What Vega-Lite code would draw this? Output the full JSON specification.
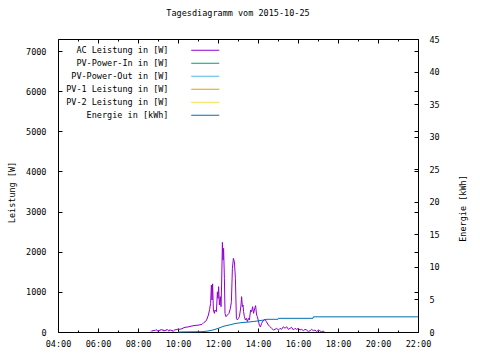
{
  "$schema": "https://vega.github.io/schema/vega-lite/v6.json",
  "width": 360,
  "height": 293,
  "autosize": {"type": "none"},
  "padding": {"left": 58, "top": 39, "right": 62, "bottom": 28},
  "background": "white",
  "title": {"text": "Tagesdiagramm vom 2015-10-25", "font": "DejaVu Sans Mono", "fontSize": 8.5, "fontWeight": "normal", "color": "black", "offset": 18, "anchor": "middle"},
  "config": {
    "view": {"stroke": "black", "strokeWidth": 1},
    "axis": {"grid": false, "domain": false, "labelFont": "DejaVu Sans Mono", "labelFontSize": 8.5, "labelColor": "black", "tickColor": "black", "tickWidth": 1, "titleFont": "DejaVu Sans Mono", "titleFontSize": 8.5, "titleFontWeight": "normal", "titleColor": "black"},
    "legend": {"orient": "none", "legendX": 143, "legendY": 7, "padding": 0, "symbolType": "M-5,0H5", "symbolSize": 31.4, "symbolStrokeWidth": 1, "symbolOpacity": 1, "labelAlign": "right", "labelOffset": -41, "labelFont": "DejaVu Sans Mono", "labelFontSize": 8.5, "labelColor": "black", "rowPadding": 4, "title": null}
  },
  "datasets": {
    "ac": [
      {"t": 8.65, "w": 10}, {"t": 8.70, "w": 40}, {"t": 8.75, "w": 20}, {"t": 8.80, "w": 50}, {"t": 8.85, "w": 30}, {"t": 8.90, "w": 60}, {"t": 8.95, "w": 40}, {"t": 9.00, "w": 20}, {"t": 9.05, "w": 50}, {"t": 9.10, "w": 30}, {"t": 9.15, "w": 70}, {"t": 9.20, "w": 40}, {"t": 9.25, "w": 60}, {"t": 9.30, "w": 20}, {"t": 9.35, "w": 50}, {"t": 9.40, "w": 30}, {"t": 9.45, "w": 70}, {"t": 9.50, "w": 40}, {"t": 9.55, "w": 20}, {"t": 9.60, "w": 60}, {"t": 9.65, "w": 30}, {"t": 9.70, "w": 50}, {"t": 9.75, "w": 10}, {"t": 9.80, "w": 40}, {"t": 9.85, "w": 60}, {"t": 9.90, "w": 50}, {"t": 9.95, "w": 70},
      {"t": 10.00, "w": 65}, {"t": 10.10, "w": 70}, {"t": 10.20, "w": 80}, {"t": 10.30, "w": 110}, {"t": 10.40, "w": 120}, {"t": 10.50, "w": 125}, {"t": 10.60, "w": 140}, {"t": 10.70, "w": 150}, {"t": 10.80, "w": 160}, {"t": 10.90, "w": 165}, {"t": 11.00, "w": 170}, {"t": 11.10, "w": 180}, {"t": 11.20, "w": 190}, {"t": 11.30, "w": 240}, {"t": 11.37, "w": 260}, {"t": 11.43, "w": 300}, {"t": 11.52, "w": 423}, {"t": 11.58, "w": 560}, {"t": 11.63, "w": 714}, {"t": 11.67, "w": 1170}, {"t": 11.70, "w": 797}, {"t": 11.73, "w": 1200}, {"t": 11.77, "w": 548}, {"t": 11.82, "w": 465}, {"t": 11.85, "w": 548}, {"t": 11.92, "w": 506}, {"t": 11.97, "w": 1000},
      {"t": 12.00, "w": 838}, {"t": 12.03, "w": 1130}, {"t": 12.07, "w": 672}, {"t": 12.12, "w": 880}, {"t": 12.15, "w": 631}, {"t": 12.18, "w": 1170}, {"t": 12.22, "w": 2232}, {"t": 12.25, "w": 1793}, {"t": 12.28, "w": 2084}, {"t": 12.32, "w": 1337}, {"t": 12.35, "w": 465}, {"t": 12.40, "w": 382}, {"t": 12.47, "w": 423}, {"t": 12.55, "w": 465}, {"t": 12.62, "w": 590}, {"t": 12.67, "w": 755}, {"t": 12.72, "w": 1585}, {"t": 12.77, "w": 1835}, {"t": 12.82, "w": 1752}, {"t": 12.87, "w": 1337}, {"t": 12.92, "w": 340}, {"t": 12.97, "w": 300},
      {"t": 13.02, "w": 340}, {"t": 13.07, "w": 382}, {"t": 13.12, "w": 548}, {"t": 13.15, "w": 672}, {"t": 13.18, "w": 880}, {"t": 13.22, "w": 631}, {"t": 13.25, "w": 672}, {"t": 13.28, "w": 506}, {"t": 13.32, "w": 382}, {"t": 13.37, "w": 300}, {"t": 13.42, "w": 340}, {"t": 13.47, "w": 257}, {"t": 13.52, "w": 340}, {"t": 13.57, "w": 300}, {"t": 13.63, "w": 548}, {"t": 13.68, "w": 506}, {"t": 13.73, "w": 631}, {"t": 13.78, "w": 465}, {"t": 13.83, "w": 575}, {"t": 13.88, "w": 656}, {"t": 13.93, "w": 423}, {"t": 13.97, "w": 382},
      {"t": 14.02, "w": 274}, {"t": 14.07, "w": 166}, {"t": 14.12, "w": 125}, {"t": 14.18, "w": 216}, {"t": 14.25, "w": 274}, {"t": 14.30, "w": 300}, {"t": 14.35, "w": 315}, {"t": 14.42, "w": 257}, {"t": 14.52, "w": 174}, {"t": 14.60, "w": 133}, {"t": 14.68, "w": 91}, {"t": 14.77, "w": 50}, {"t": 14.85, "w": 66}, {"t": 14.93, "w": 91},
      {"t": 15.02, "w": 50}, {"t": 15.10, "w": 91}, {"t": 15.18, "w": 66}, {"t": 15.27, "w": 133}, {"t": 15.35, "w": 91}, {"t": 15.43, "w": 133}, {"t": 15.52, "w": 66}, {"t": 15.60, "w": 91}, {"t": 15.68, "w": 116}, {"t": 15.77, "w": 50}, {"t": 15.85, "w": 91}, {"t": 15.93, "w": 66},
      {"t": 16.02, "w": 91}, {"t": 16.10, "w": 50}, {"t": 16.18, "w": 66}, {"t": 16.27, "w": 33}, {"t": 16.35, "w": 66}, {"t": 16.43, "w": 50}, {"t": 16.52, "w": 8}, {"t": 16.60, "w": 33}, {"t": 16.68, "w": 66}, {"t": 16.77, "w": 33}, {"t": 16.85, "w": 50}, {"t": 16.93, "w": 8},
      {"t": 17.02, "w": 50}, {"t": 17.10, "w": 25}, {"t": 17.18, "w": 8}, {"t": 17.27, "w": 25}, {"t": 17.32, "w": 0}
    ],
    "en": [
      {"t": 10.00, "e": 0}, {"t": 11.20, "e": 0.05}, {"t": 11.50, "e": 0.15}, {"t": 11.80, "e": 0.35}, {"t": 12.00, "e": 0.55}, {"t": 12.30, "e": 0.9}, {"t": 12.60, "e": 1.1}, {"t": 12.85, "e": 1.3}, {"t": 13.20, "e": 1.45}, {"t": 13.60, "e": 1.55}, {"t": 14.00, "e": 1.7}, {"t": 14.30, "e": 1.85}, {"t": 14.40, "e": 1.95}, {"t": 15.00, "e": 1.95}, {"t": 15.02, "e": 2.1}, {"t": 16.75, "e": 2.1}, {"t": 16.77, "e": 2.33}, {"t": 22.00, "e": 2.33}
    ]
  },
  "layer": [
    {
      "data": {"name": "ac"},
      "mark": {"type": "line", "strokeWidth": 1},
      "encoding": {
        "x": {"field": "t", "type": "quantitative", "scale": {"domain": [4, 22], "nice": false, "zero": false},
          "axis": {"orient": "bottom", "values": [4, 6, 8, 10, 12, 14, 16, 18, 20, 22], "labelExpr": "(datum.value < 10 ? '0' : '') + datum.value + ':00'", "tickSize": -4, "labelPadding": 11, "labelFlush": false, "labelOverlap": false, "title": null}},
        "y": {"field": "w", "type": "quantitative", "scale": {"domain": [0, 7300], "nice": false},
          "axis": {"orient": "left", "values": [0, 1000, 2000, 3000, 4000, 5000, 6000, 7000], "format": "d", "tickSize": -4, "labelPadding": 16, "labelOverlap": false, "title": "Leistung [W]", "titleAngle": 270, "titleX": -47, "titleY": 153, "titleAlign": "center", "titleBaseline": "middle"}},
        "color": {"datum": "AC Leistung in [W]", "type": "nominal",
          "scale": {"domain": ["AC Leistung in [W]", "PV-Power-In in [W]", "PV-Power-Out in [W]", "PV-1 Leistung in [W]", "PV-2 Leistung in [W]", "Energie in [kWh]"], "range": ["#9400d3", "#009e73", "#56b4e9", "#e69f00", "#f0e442", "#0072b2"]}}
      }
    },
    {
      "data": {"name": "en"},
      "mark": {"type": "line", "strokeWidth": 1},
      "encoding": {
        "x": {"field": "t", "type": "quantitative",
          "axis": {"orient": "top", "values": [4, 6, 8, 10, 12, 14, 16, 18, 20, 22], "tickSize": -4, "labels": false, "title": null}},
        "y": {"field": "e", "type": "quantitative", "scale": {"domain": [0, 45], "nice": false},
          "axis": {"orient": "right", "values": [0, 5, 10, 15, 20, 25, 30, 35, 40, 45], "tickSize": -4, "labelPadding": 15, "labelOverlap": false, "labelFlush": false, "title": "Energie [kWh]", "titleAngle": 270, "titleX": 44, "titleY": 169, "titleAlign": "center", "titleBaseline": "middle"}},
        "color": {"datum": "Energie in [kWh]", "type": "nominal"}
      }
    },
    {
      "data": {"name": "ac"},
      "mark": {"type": "line", "strokeWidth": 1, "strokeOpacity": 0},
      "encoding": {
        "x": {"field": "t", "type": "quantitative",
          "axis": {"orient": "bottom", "values": [5, 7, 9, 11, 13, 15, 17, 19, 21], "tickSize": -2, "labels": false, "title": null}},
        "y": {"field": "w", "type": "quantitative", "scale": {"domain": [0, 7300], "nice": false},
          "axis": {"orient": "right", "values": [0, 1000, 2000, 3000, 4000, 5000, 6000, 7000], "tickSize": -4, "labels": false, "title": null}}
      }
    },
    {
      "data": {"name": "ac"},
      "mark": {"type": "line", "strokeWidth": 1, "strokeOpacity": 0},
      "encoding": {
        "x": {"field": "t", "type": "quantitative",
          "axis": {"orient": "top", "values": [5, 7, 9, 11, 13, 15, 17, 19, 21], "tickSize": -2, "labels": false, "title": null}},
        "y": {"field": "w", "type": "quantitative", "scale": {"domain": [0, 7300], "nice": false}, "axis": null}
      }
    }
  ],
  "resolve": {"scale": {"y": "independent"}, "axis": {"x": "independent", "y": "independent"}}
}
